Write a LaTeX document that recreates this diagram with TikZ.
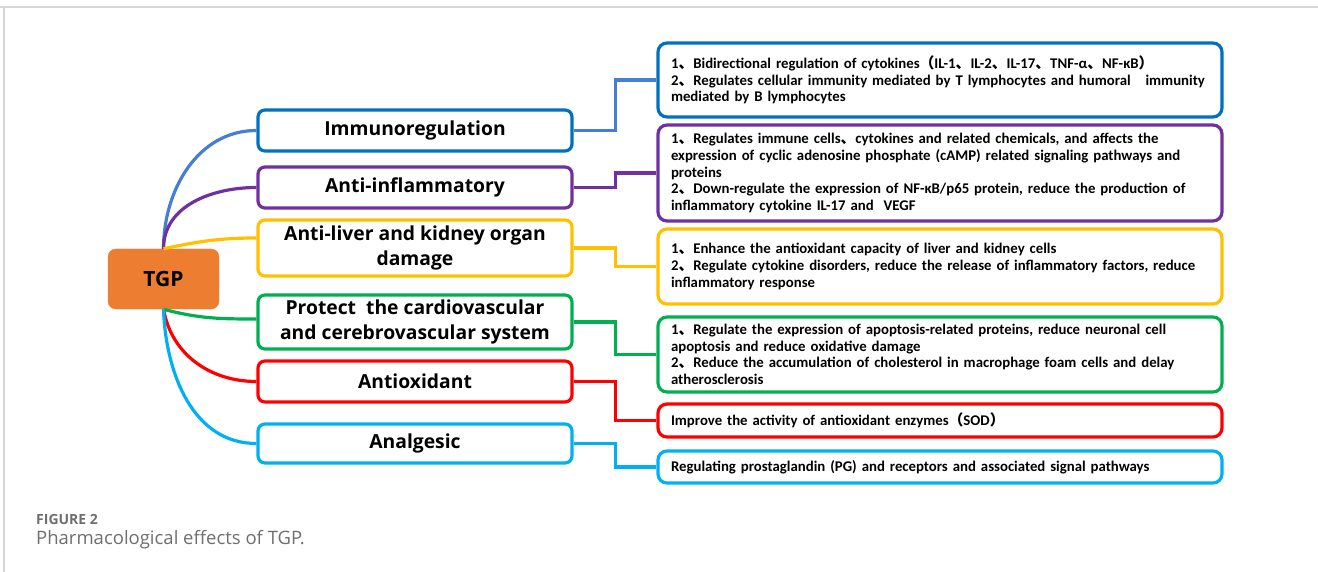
\documentclass[tikz,border=0pt]{standalone}
\usepackage{fontspec}
\setmainfont{Open Sans}
\newfontfamily\cjk{Noto Sans CJK SC}
\newfontfamily\rfont{Carlito}
\newcommand{\dn}{{\cjk 、}}
\newcommand{\lpz}{{\cjk （}}
\newcommand{\rpz}{{\cjk ）}}
\definecolor{cblue}{RGB}{0,112,192}
\definecolor{cbluel}{RGB}{70,125,215}
\definecolor{cpurple}{RGB}{112,48,160}
\definecolor{cyellow}{RGB}{255,192,0}
\definecolor{cgreen}{RGB}{0,176,80}
\definecolor{cred}{RGB}{255,0,0}
\definecolor{ccyan}{RGB}{0,176,240}
\definecolor{corange}{RGB}{237,125,49}
\definecolor{cframe}{RGB}{215,215,215}
\definecolor{ccap}{RGB}{110,110,110}
\begin{document}
\begin{tikzpicture}[x=1pt,y=-1pt,
  lbox/.style={draw, rounded corners=7pt, line width=3.2pt, minimum width=314pt, align=center, fill=white, inner sep=2pt, font=\bfseries\fontsize{19.3}{24.5}\selectfont},
  rbox/.style={draw, rounded corners=9pt, line width=3.2pt, minimum width=564pt, text width=538pt, inner xsep=13pt, align=left, fill=white, font=\rfont\bfseries\fontsize{14.8}{16.6}\selectfont},
  conn/.style={line width=3.2pt},
  captxt/.style={anchor=base west, inner sep=0pt, text=ccap}]
\useasboundingbox (0,0) rectangle (1318,572);
\draw[cframe, line width=1.5pt] (0,7) -- (1318,7);
\draw[cframe, line width=1.5pt] (4,7) -- (4,572);

\node[draw=corange, fill=corange, rounded corners=8pt, minimum width=111pt, minimum height=60pt, font=\bfseries\fontsize{21}{24}\selectfont] (tgp) at (163.5,279) {TGP};

\node[lbox, draw=cblue, minimum height=41pt] (imm) at (415,130.5) {Immunoregulation};
\node[lbox, draw=cpurple, minimum height=41pt] (inf) at (415,187.5) {Anti-inflammatory};
\node[lbox, draw=cyellow, minimum height=56pt] (liv) at (415,248) {Anti-liver and kidney organ\\damage};
\node[lbox, draw=cgreen, minimum height=54pt] (pro) at (415,322) {Protect\ \ the cardiovascular\\and cerebrovascular system};
\node[lbox, draw=cred, minimum height=41pt] (aox) at (415,381.5) {Antioxidant};
\node[lbox, draw=ccyan, minimum height=39pt] (ana) at (415,443.5) {Analgesic};

\node[rbox, draw=cblue, minimum height=74pt] (r1) at (940,80) {1\dn Bidirectional regulation of cytokines\lpz IL-1\dn IL-2\dn IL-17\dn TNF-α\dn NF-κB\rpz\\2\dn Regulates cellular immunity mediated by T lymphocytes and humoral\ \ \ immunity\\mediated by B lymphocytes};
\node[rbox, draw=cpurple, minimum height=96pt] (r2) at (940,173) {1\dn Regulates immune cells\dn cytokines and related chemicals, and affects the\\expression of cyclic adenosine phosphate (cAMP) related signaling pathways and\\proteins\\2\dn Down-regulate the expression of NF-κB/p65 protein, reduce the production of\\inflammatory cytokine IL-17 and\ \ VEGF};
\node[rbox, draw=cyellow, minimum height=75pt] (r3) at (940,266.5) {1\dn Enhance the antioxidant capacity of liver and kidney cells\\2\dn Regulate cytokine disorders, reduce the release of inflammatory factors, reduce\\inflammatory response};
\node[rbox, draw=cgreen, minimum height=75pt] (r4) at (940,354.5) {1\dn Regulate the expression of apoptosis-related proteins, reduce neuronal cell\\apoptosis and reduce oxidative damage\\2\dn Reduce the accumulation of cholesterol in macrophage foam cells and delay\\atherosclerosis};
\node[rbox, draw=cred, minimum height=33pt] (r5) at (940,420.5) {Improve the activity of antioxidant enzymes\lpz SOD\rpz};
\node[rbox, draw=ccyan, minimum height=32pt] (r6) at (940,467) {Regulating prostaglandin (PG) and receptors and associated signal pathways};

\draw[conn, cbluel] (tgp.north) to[out=90, in=180] (imm.west);
\draw[conn, cpurple] (tgp.north) to[out=90, in=180] (inf.west);
\draw[conn, cyellow] (tgp.north) to[out=12, in=180] ([yshift=10pt]liv.west);
\draw[conn, cgreen] (tgp.south) to[out=-15, in=180] ([yshift=3pt]pro.west);
\draw[conn, cred] (tgp.south) to[out=-80, in=180] (aox.west);
\draw[conn, ccyan] (tgp.south) to[out=-88, in=180] (ana.west);

\draw[conn, cbluel] (imm.east) -- ++(42,0) |- (r1.west);
\draw[conn, cpurple] (inf.east) -- ++(42,0) |- (r2.west);
\draw[conn, cyellow] (liv.east) -- ++(42,0) |- (r3.west);
\draw[conn, cgreen] (pro.east) -- ++(42,0) |- (r4.west);
\draw[conn, cred] (aox.east) -- ++(42,0) |- (r5.west);
\draw[conn, ccyan] (ana.east) -- ++(42,0) |- (r6.west);

\node[captxt, font=\bfseries\fontsize{14}{16}\selectfont] (fig) at (36,524) {FIGURE 2};
\node[captxt, font=\fontsize{18.5}{21}\selectfont] (cap) at (36,544) {Pharmacological effects of TGP.};
\end{tikzpicture}
\end{document}
